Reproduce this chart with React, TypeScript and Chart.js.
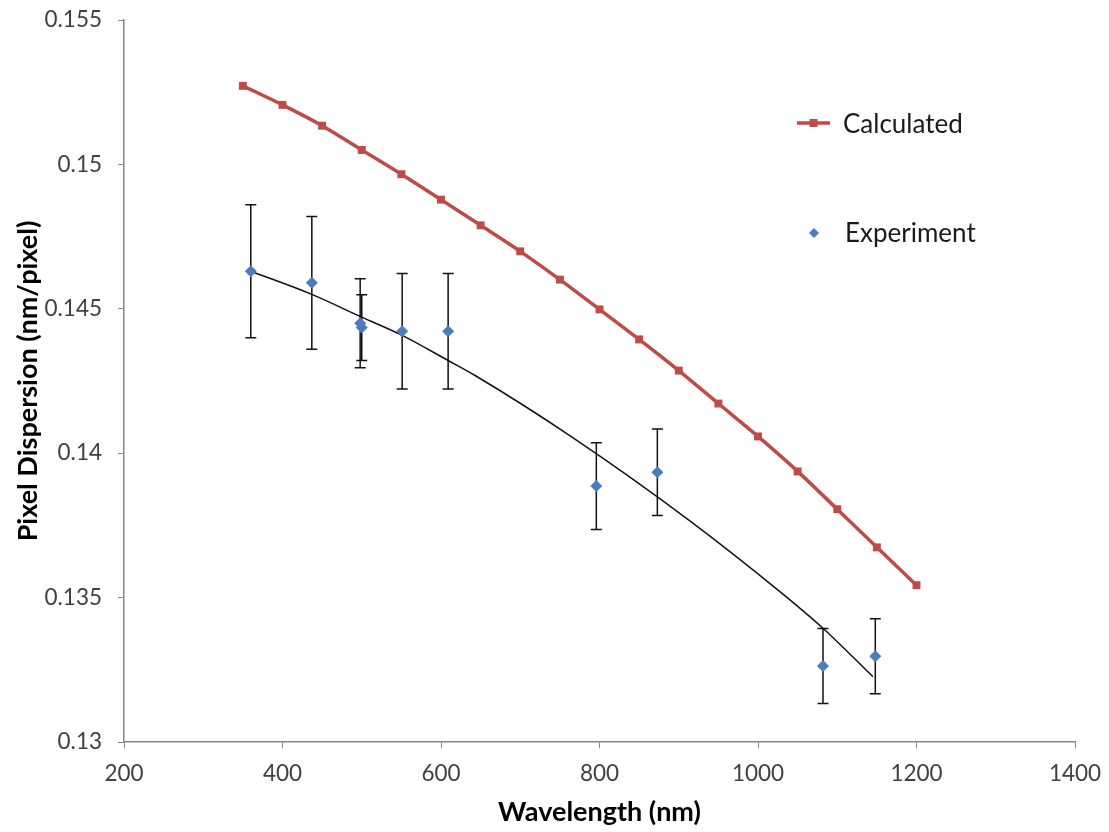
import { useEffect, useRef } from 'react';
import { Chart, registerables } from 'chart.js';

Chart.register(...registerables);

// ---- Data ----
const calcWavelengths = [350, 400, 450, 500, 550, 600, 650, 700, 750, 800, 850, 900, 950, 1000, 1050, 1100, 1150, 1200];
const calcDispersion = [0.15272, 0.15206, 0.15134, 0.1505, 0.14966, 0.14878, 0.14789, 0.14699, 0.14601, 0.14498, 0.14394, 0.14286, 0.14172, 0.14058, 0.13937, 0.13806, 0.13674, 0.13543];

const expWavelengths = [360, 437, 498, 500, 551, 609, 796, 873, 1082, 1148];
const expDispersion = [0.1463, 0.1459, 0.1445, 0.14435, 0.14422, 0.14422, 0.13886, 0.13934, 0.13263, 0.13297];
const expError = [0.0023, 0.0023, 0.00154, 0.00114, 0.002, 0.002, 0.0015, 0.0015, 0.0013, 0.0013];

const trendWavelengths = [360, 437, 500, 551, 609, 643, 763, 914, 1028, 1082, 1145];
const trendDispersion = [0.1463, 0.1455, 0.14471, 0.14408, 0.14321, 0.14269, 0.1406, 0.13766, 0.1352, 0.13394, 0.13226];

const legendLabels = ['Calculated', 'Experiment'];
const xTitle = 'Wavelength (nm)';
const yTitle = 'Pixel Dispersion (nm/pixel)';

const RED = '#BE4B48';
const BLUE = '#4A7EBB';
const AXIS = '#868686';
const FONT = 'Lato, "Open Sans", sans-serif';

const errorBarPlugin = {
  id: 'errorBars',
  beforeDatasetsDraw(chart: any) {
    const { ctx, scales } = chart;
    const xs = scales.x;
    const ys = scales.y;
    ctx.save();
    ctx.strokeStyle = '#111';
    ctx.lineWidth = 1.5;
    const cap = 5.5;
    expWavelengths.forEach((w, i) => {
      const x = xs.getPixelForValue(w);
      const yt = ys.getPixelForValue(expDispersion[i] + expError[i]);
      const yb = ys.getPixelForValue(expDispersion[i] - expError[i]);
      ctx.beginPath();
      ctx.moveTo(x, yt);
      ctx.lineTo(x, yb);
      ctx.moveTo(x - cap, yt);
      ctx.lineTo(x + cap, yt);
      ctx.moveTo(x - cap, yb);
      ctx.lineTo(x + cap, yb);
      ctx.stroke();
    });
    ctx.restore();
  },
};

const legendPlugin = {
  id: 'customLegend',
  afterDraw(chart: any) {
    const { ctx } = chart;
    ctx.save();
    ctx.font = `26px ${FONT}`;
    ctx.textBaseline = 'alphabetic';
    ctx.textAlign = 'left';
    // Calculated
    ctx.strokeStyle = RED;
    ctx.lineWidth = 3.5;
    ctx.beginPath();
    ctx.moveTo(797, 123);
    ctx.lineTo(830, 123);
    ctx.stroke();
    ctx.fillStyle = RED;
    ctx.fillRect(813.5 - 4, 123 - 4, 8, 8);
    ctx.fillStyle = '#1a1a1a';
    ctx.fillText(legendLabels[0], 843, 133);
    // Experiment
    ctx.fillStyle = BLUE;
    ctx.beginPath();
    ctx.moveTo(814, 233 - 5);
    ctx.lineTo(819, 233);
    ctx.lineTo(814, 238);
    ctx.lineTo(809, 233);
    ctx.closePath();
    ctx.fill();
    ctx.fillStyle = '#1a1a1a';
    ctx.fillText(legendLabels[1], 845, 242);
    ctx.restore();
  },
};

export default function App() {
  const ref = useRef<HTMLCanvasElement>(null);
  useEffect(() => {
    if (!ref.current) return;
    const chart = new Chart(ref.current, {
      type: 'scatter',
      data: {
        datasets: [
          {
            label: legendLabels[0],
            data: calcWavelengths.map((x, i) => ({ x, y: calcDispersion[i] })),
            showLine: true,
            borderColor: RED,
            backgroundColor: RED,
            borderWidth: 3.5,
            pointStyle: 'rect',
            pointRadius: 5.6,
            pointBorderWidth: 0,
            tension: 0.3,
            order: 1,
          },
          {
            label: 'Trend',
            data: trendWavelengths.map((x, i) => ({ x, y: trendDispersion[i] })),
            showLine: true,
            borderColor: '#111',
            borderWidth: 1.5,
            pointRadius: 0,
            cubicInterpolationMode: 'monotone',
            order: 3,
          },
          {
            label: legendLabels[1],
            data: expWavelengths.map((x, i) => ({ x, y: expDispersion[i] })),
            showLine: false,
            backgroundColor: BLUE,
            borderColor: BLUE,
            pointStyle: 'rectRot',
            pointRadius: 6,
            pointBorderWidth: 0,
            order: 0,
          },
        ],
      },
      options: {
        animation: false,
        responsive: false,
        layout: { padding: { left: 0, right: 34, top: 20, bottom: 0 } },
        plugins: { legend: { display: false }, tooltip: { enabled: false } },
        scales: {
          x: {
            type: 'linear',
            min: 200,
            max: 1400,
            ticks: {
              stepSize: 200,
              color: '#404040',
              font: { family: FONT, size: 22.5 },
              padding: 12,
              maxRotation: 0,
              callback: (v: any) => String(v),
            },
            grid: { drawOnChartArea: false, drawTicks: true, tickLength: 6, color: AXIS },
            border: { color: AXIS, width: 1.5 },
            title: { display: true, text: xTitle, color: '#000', font: { family: FONT, size: 27, weight: 'bold' }, padding: { top: 4, bottom: 4 } },
            afterFit: (s: any) => { s.height = 90; s.paddingRight = 0; s.paddingLeft = 0; },
          },
          y: {
            type: 'linear',
            min: 0.13,
            max: 0.155,
            ticks: {
              stepSize: 0.005,
              color: '#404040',
              font: { family: FONT, size: 22.5 },
              padding: 16,
              callback: (v: any) => String(parseFloat(Number(v).toFixed(3))),
            },
            grid: { drawOnChartArea: false, drawTicks: true, tickLength: 6, color: AXIS },
            border: { color: AXIS, width: 1.5 },
            title: { display: true, text: yTitle, color: '#000', font: { family: FONT, size: 27, weight: 'bold' }, padding: { top: 12, bottom: 0 } },
            afterFit: (s: any) => { s.width = 124; s.paddingTop = 0; s.paddingBottom = 0; },
          },
        },
      },
      plugins: [errorBarPlugin, legendPlugin],
    } as any);
    return () => chart.destroy();
  }, []);
  return (
    <div style={{ position: 'absolute', left: 0, top: 0, width: 1109, height: 832, background: '#fff' }}>
      <canvas ref={ref} width={1109} height={832} style={{ width: 1109, height: 832, display: 'block' }} />
    </div>
  );
}
